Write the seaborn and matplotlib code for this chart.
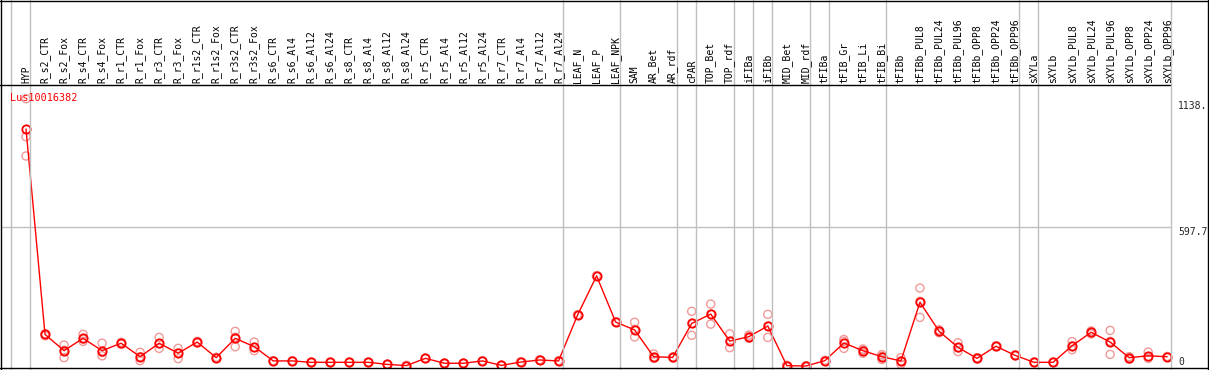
import pandas as pd
import matplotlib
matplotlib.use("Agg")
import matplotlib.pyplot as plt
import matplotlib.transforms as mtransforms
from matplotlib.lines import Line2D
import seaborn as sns

# sample names (column order of the expression profile)
samples = [
    "HYP", "R_s2_CTR", "R_s2_Fox", "R_s4_CTR", "R_s4_Fox", "R_r1_CTR", "R_r1_Fox",
    "R_r3_CTR", "R_r3_Fox", "R_r1s2_CTR", "R_r1s2_Fox", "R_r3s2_CTR", "R_r3s2_Fox",
    "R_s6_CTR", "R_s6_Al4", "R_s6_Al12", "R_s6_Al24", "R_s8_CTR", "R_s8_Al4",
    "R_s8_Al12", "R_s8_Al24", "R_r5_CTR", "R_r5_Al4", "R_r5_Al12", "R_r5_Al24",
    "R_r7_CTR", "R_r7_Al4", "R_r7_Al12", "R_r7_Al24", "LEAF_N", "LEAF_P", "LEAF_NPK",
    "SAM", "AR_Bet", "AR_rdf", "cPAR", "TOP_Bet", "TOP_rdf", "iFIBa", "iFIBb",
    "MID_Bet", "MID_rdf", "tFIBa", "tFIB_Gr", "tFIB_Li", "tFIB_Bi", "tFIBb",
    "tFIBb_PUL8", "tFIBb_PUL24", "tFIBb_PUL96", "tFIBb_OPP8", "tFIBb_OPP24", "tFIBb_OPP96",
    "sXYLa", "sXYLb", "sXYLb_PUL8", "sXYLb_PUL24", "sXYLb_PUL96", "sXYLb_OPP8",
    "sXYLb_OPP24", "sXYLb_OPP96",
]

# mean expression per sample
mean_expr = [
    1020, 138, 68, 121, 68, 100, 42, 100, 57, 105, 38, 121, 85,
    24, 24, 18, 18, 18, 18, 9, 4, 35, 14, 14, 24, 5, 19, 28, 24,
    221, 389, 191, 157, 42, 39, 185, 225, 109, 128, 174, 4, 2,
    25, 101, 68, 42, 24, 276, 152, 82, 35, 87, 48, 18, 18,
    89, 147, 105, 38, 46, 42,
]

# replicate values
rep1 = [
    1150, 140, 92, 138, 100, 104, 61, 125, 78, 108, 40, 151, 105,
    25, 25, 19, 19, 19, 19, 10, 5, 36, 15, 15, 25, 6, 20, 29, 25,
    222, 390, 192, 190, 54, 41, 237, 268, 140, 135, 224, 5, 3,
    27, 116, 75, 51, 38, 337, 158, 102, 38, 89, 50, 19, 19,
    107, 153, 155, 42, 62, 43,
]
rep2 = [
    987, 132, 38, 108, 46, 96, 25, 78, 34, 102, 36, 85, 68,
    23, 23, 17, 17, 17, 17, 8, 3, 34, 13, 13, 23, 4, 18, 27, 23,
    220, 388, 190, 127, 35, 37, 134, 182, 81, 122, 125, 3, 1,
    23, 78, 57, 30, 10, 211, 145, 64, 32, 85, 46, 17, 17,
    72, 140, 52, 31, 35, 41,
]
rep3 = [
    904, 138, 70, 118, 60, 100, 42, 98, 58, 105, 38, 126, 82,
    24, 24, 18, 18, 18, 18, 9, 4, 35, 14, 14, 24, 5, 19, 28, 24,
    221, 389, 191, 160, 40, 39, 185, 225, 108, 128, 174, 4, 2,
    25, 108, 70, 44, 24, 280, 152, 80, 35, 87, 48, 18, 18,
    88, 148, 108, 40, 42, 42,
]

# index of the last sample in each tissue group (grey separators)
group_ends = [-1, 0, 28, 31, 34, 35, 37, 38, 39, 41, 42, 45, 52, 53, 60]

gene = "Lus10016382"
y_max = 1138.5

W, H = 1209, 370
def fx(px):
    return px / W
def fy(py):
    return 1 - py / H

sns.set_style("white")
plt.rcParams["font.family"] = ["DejaVu Sans Mono", "DejaVu Sans"]

fig = plt.figure(figsize=(W / 100, H / 100), dpi=100)
ax = fig.add_axes([fx(1), fy(368), fx(1208) - fx(1), fy(86) - fy(368)])

pos = list(range(len(samples)))
df_mean = pd.DataFrame({"pos": pos, "expr": mean_expr})
df_rep = pd.DataFrame({
    "pos": pos * 3,
    "expr": rep1 + rep2 + rep3,
})

sns.scatterplot(data=df_rep, x="pos", y="expr", ax=ax, marker="o", s=34,
                color="#f09a9a", facecolors="none", edgecolors="#f09a9a",
                linewidths=1.0, zorder=2, legend=False)
sns.lineplot(data=df_mean, x="pos", y="expr", ax=ax, color="red", lw=1,
             marker="o", markersize=6, markerfacecolor="none",
             markeredgecolor="red", markeredgewidth=1.3, zorder=3)

ax.set_xlim((1 - 26) / 19.02, (1208 - 26) / 19.02)
ax.set_ylim(-6.4, 1204.5)
ax.set_axis_off()

# mid grid line
ax.plot([ax.get_xlim()[0], 60.21], [y_max * 1.05 / 2] * 2, color="#c0c0c0", lw=1, zorder=1)

trans = mtransforms.blended_transform_factory(ax.transData, fig.transFigure)
for g in group_ends:
    fig.add_artist(Line2D([g + 0.21, g + 0.21], [0, 1], transform=trans,
                          color="#c0c0c0", lw=1, zorder=1))

# frame lines
for xs, ys in [([0, 1], [fy(0.5)] * 2), ([fx(1)] * 2, [0, 1]),
               ([0, 1], [fy(368)] * 2), ([fx(1208)] * 2, [0, 1]),
               ([0, fx(1170)], [fy(85)] * 2)]:
    fig.add_artist(Line2D(xs, ys, transform=fig.transFigure, color="black", lw=1))

# sample labels in header
for i, name in enumerate(samples):
    fig.text(i, fy(83), name, transform=trans, rotation=90, ha="center",
             va="bottom", fontsize=7, color="black")

fig.text(fx(10), fy(98), gene, color="red", fontsize=7.3, va="center", ha="left")

# right-side value labels
rtrans = mtransforms.blended_transform_factory(fig.transFigure, ax.transData)
fig.text(fx(1178), y_max, "1138.", transform=rtrans, fontsize=7, va="top")
fig.text(fx(1178), y_max * 1.05 / 2, "597.7", transform=rtrans, fontsize=7, va="top")
fig.text(fx(1178), 0, "0", transform=rtrans, fontsize=7, va="bottom")

fig.savefig("out.png", dpi=100)
